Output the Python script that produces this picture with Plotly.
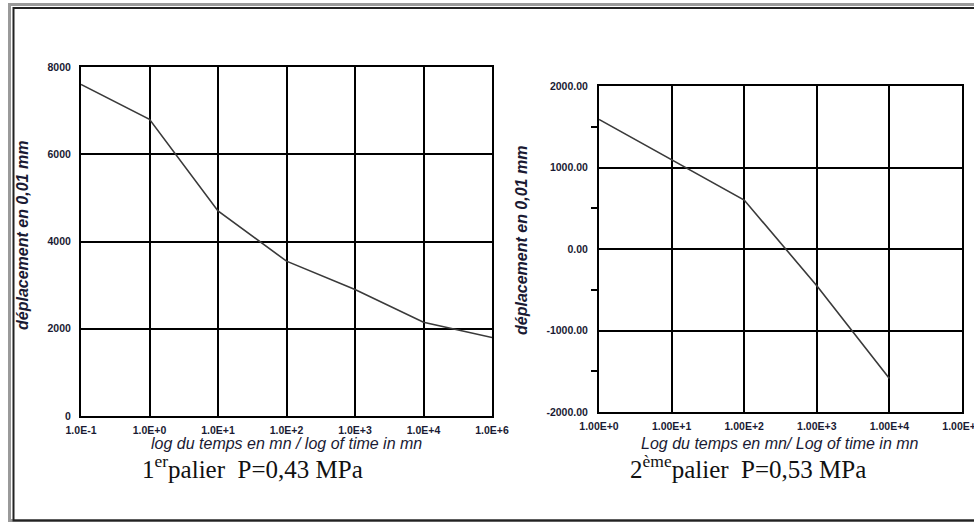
import plotly.graph_objects as go

W, H = 974, 522

# ---- data ----
t1 = [0.1, 1, 10, 100, 1000, 10000, 100000]
d1 = [7600, 6800, 4700, 3550, 2900, 2150, 1800]
x1_ticks = [0.1, 1, 10, 100, 1000, 10000, 100000]
x1_labels = ["1.0E-1", "1.0E+0", "1.0E+1", "1.0E+2", "1.0E+3", "1.0E+4", "1.0E+6"]
y1_ticks = [0, 2000, 4000, 6000, 8000]
y1_labels = ["0", "2000", "4000", "6000", "8000"]

t2 = [1, 10, 100, 1000, 10000]
d2 = [1590, 1100, 600, -450, -1590]
x2_ticks = [1, 10, 100, 1000, 10000, 100000]
x2_labels = ["1.00E+0", "1.00E+1", "1.00E+2", "1.00E+3", "1.00E+4", "1.00E+5"]
y2_ticks = [-2000, -1000, 0, 1000, 2000]
y2_labels = ["-2000.00", "-1000.00", "0.00", "1000.00", "2000.00"]


def px(x):
    return x / W


def py(y):
    return 1 - y / H


fig = go.Figure()
fig.add_trace(go.Scatter(x=t1, y=d1, mode="lines", line=dict(color="#3a3a3a", width=1.6),
                         xaxis="x", yaxis="y", showlegend=False, hoverinfo="skip"))
fig.add_trace(go.Scatter(x=t2, y=d2, mode="lines", line=dict(color="#3a3a3a", width=1.6),
                         xaxis="x2", yaxis="y2", showlegend=False, hoverinfo="skip"))

tickfont = dict(family="Liberation Sans, Arial", size=10.5, color="#1a1a33", weight="bold")
common = dict(showline=True, linecolor="black", linewidth=2, mirror=True,
              showgrid=True, gridcolor="black", gridwidth=1.6, zeroline=False,
              tickfont=tickfont, fixedrange=True, automargin=False,
              ticklabeloverflow="allow")

fig.update_layout(
    width=W, height=H,
    margin=dict(l=0, r=0, t=0, b=0, autoexpand=False),
    paper_bgcolor="white", plot_bgcolor="white",
    xaxis=dict(type="log", range=[-1, 5], domain=[px(81), px(492)], anchor="y",
               tickvals=x1_ticks, ticktext=x1_labels, ticks="", ticklabelstandoff=3, **common),
    yaxis=dict(range=[0, 8000], domain=[py(416), py(67)], anchor="x",
               tickvals=y1_ticks, ticktext=y1_labels, ticks="", ticklabelstandoff=6, **common),
    xaxis2=dict(type="log", range=[0, 5], domain=[px(599), px(962)], anchor="y2",
                tickvals=x2_ticks, ticktext=x2_labels, ticks="", ticklabelstandoff=3, **common),
    yaxis2=dict(range=[-2000, 2000], domain=[py(412), py(86)], anchor="x2",
                tickvals=y2_ticks, ticktext=y2_labels, ticks="", ticklabelstandoff=7,
                minor=dict(ticks="outside", ticklen=6, tickwidth=2, tickcolor="black",
                           tick0=500, dtick=1000, showgrid=False),
                **common),
)

ann_base = dict(xref="paper", yref="paper", showarrow=False, xanchor="center", yanchor="middle")
ytitle_font = dict(family="Liberation Sans, Arial", size=16, color="#1a1a33",
                   weight="bold", style="italic")
xtitle_font = dict(family="Liberation Sans, Arial", size=16, color="#1a1a33", style="italic")
cap_font = dict(family="Liberation Serif, Times New Roman", size=25, color="#111")

ann = [
    dict(text="déplacement en 0,01 mm", x=px(22), y=py(236), textangle=-90, font=ytitle_font, **ann_base),
    dict(text="déplacement en 0,01 mm", x=px(521), y=py(241), textangle=-90, font=ytitle_font, **ann_base),
    dict(text="log du temps en mn / log of time in mn", x=px(286), y=py(443), font=xtitle_font, **ann_base),
    dict(text="Log du temps en mn/ Log of time in mn", x=px(780), y=py(443), font=xtitle_font, **ann_base),
    dict(text="1<sup>er</sup>palier  P=0,43 MPa", x=px(252), y=py(467), font=cap_font, **ann_base),
    dict(text="2<sup>ème</sup>palier  P=0,53 MPa", x=px(748), y=py(467), font=cap_font, **ann_base),
]
fig.update_layout(annotations=ann)

# outer double frame
fig.add_shape(type="rect", xref="paper", yref="paper",
              x0=px(9.5), x1=px(1000), y0=py(520.5), y1=py(4.5),
              line=dict(color="#9a9a9a", width=3), fillcolor="rgba(0,0,0,0)", layer="above")
fig.add_shape(type="rect", xref="paper", yref="paper",
              x0=px(13.5), x1=px(1000), y0=py(520.5), y1=py(8),
              line=dict(color="#222222", width=2), fillcolor="rgba(0,0,0,0)", layer="above")

fig.write_html("out.html")
